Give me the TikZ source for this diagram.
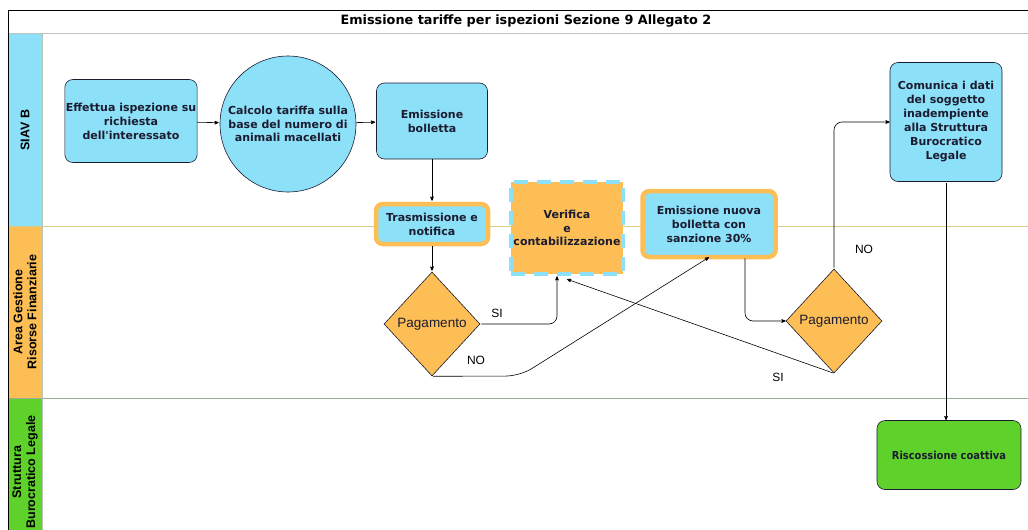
\documentclass[tikz,border=0pt]{standalone}
\usepackage{fontspec}
\setmainfont{DejaVu Sans}[Ligatures=TeXOff]
\newfontfamily\arialfont{Liberation Sans}
\newfontfamily\condfont{DejaVu Sans Condensed}
\usepackage{tikz}
\usetikzlibrary{arrows,shapes.geometric,positioning}
\definecolor{boxblue}{HTML}{8CE0F8}
\definecolor{boxorange}{HTML}{FCBE55}
\definecolor{boxgreen}{HTML}{5ED22B}
\definecolor{txtdark}{HTML}{1C1C30}
\definecolor{laneline}{HTML}{D6CF8C}
\definecolor{lanegray}{HTML}{9AAC9A}
\tikzset{module/.style={rectangle,rounded corners=8pt,draw=txtdark,semithick,fill=boxblue,align=center,text=txtdark,font=\bfseries\fontsize{11}{14}\selectfont},
		pre/.style={<-,shorten <=1pt,>=stealth',semithick},
		post/.style={->,shorten <=1pt,>=stealth',semithick}}

\begin{document}
\begin{tikzpicture}[x=1pt,y=-1pt,
		task/.style={module,minimum width=132pt,minimum height=83pt,inner sep=1pt},
		calc/.style={circle,draw=txtdark,semithick,fill=boxblue,minimum size=136pt,inner sep=0pt,align=center,text=txtdark,font=\bfseries\fontsize{11}{13.5}\selectfont},
		framed/.style={module,draw=boxorange,line width=4.5pt,rounded corners=7pt,inner sep=1pt},
		check/.style={rectangle,fill=boxorange,draw=boxblue,line width=4.5pt,dash pattern=on 14pt off 9pt,align=center,text=txtdark,inner sep=1pt,font=\bfseries\fontsize{11}{13.5}\selectfont},
		cond/.style={diamond,aspect=0.92,draw=txtdark,semithick,fill=boxorange,inner sep=1pt,minimum width=96pt,minimum height=104pt,text=txtdark,font=\arialfont\fontsize{13.5}{15}\selectfont},
		final/.style={rectangle,rounded corners=8pt,draw=txtdark,semithick,fill=boxgreen,minimum width=144pt,minimum height=69pt,text=txtdark,font=\condfont\bfseries\fontsize{11}{13}\selectfont},
		lane/.style={rotate=90,align=center,font=\arialfont\bfseries\fontsize{12.5}{14}\selectfont},
		lbl/.style={font=\arialfont\fontsize{12}{13}\selectfont}]
		\useasboundingbox (0,0) rectangle (1028,530);
		% swimlanes
		\fill[white] (8,10) rectangle (1028,530);
		\fill[boxblue] (8,33) rectangle (42,226);
		\fill[boxorange] (8,226) rectangle (42,398);
		\fill[boxgreen] (8,398) rectangle (42,530);
		\draw[laneline] (8,226) -- (1028,226);
		\draw[lanegray] (8,398) -- (1028,398);
		\draw[lanegray!70] (8,33) -- (1028,33);
		\draw[lanegray!70] (42,33) -- (42,530);
		\draw[black] (8,530) -- (8,10) -- (1028,10);
		\node[font=\bfseries\fontsize{12.8}{15}\selectfont] (title) at (526,21) {Emissione tariffe per ispezioni Sezione 9 Allegato 2};
		\node[lane] (lane-siav) at (25,130) {SIAV B};
		\node[lane] (lane-agrf) at (25,312) {Area Gestione\\Risorse Finanziarie};
		\node[lane] (lane-sbl) at (25,472) {Struttura\\Burocratico Legale};
		% flow
		\node[task] (ispezione) at (131,121) {Effettua ispezione su\\richiesta\\dell'interessato};
		\node[calc] (calcolo) at (288,124) {Calcolo tariffa sulla\\base del numero di\\animali macellati} edge[pre] (ispezione);
		\node[task,minimum width=111pt,minimum height=76pt] (bolletta) at (432,121) {Emissione\\bolletta} edge[pre] (calcolo);
		\node[framed,minimum width=112pt,minimum height=40pt] (trasmissione) at (432,224) {Trasmissione e\\notifica} edge[pre] (bolletta);
		\node[cond] (pagamento-1) at (432,324) {Pagamento} edge[pre] (trasmissione);
		\node[check,minimum width=112pt,minimum height=92pt] (verifica) at (567,228) {Verifica\\e\\contabilizzazione};
		\node[framed,minimum width=133pt,minimum height=66pt] (nuova) at (709,224) {Emissione nuova\\bolletta con\\sanzione 30\%};
		\node[cond] (pagamento-2) at (834,321) {Pagamento};
		\node[task,minimum width=112pt,minimum height=119pt] (comunica) at (946,122) {Comunica i dati\\del soggetto\\inadempiente\\alla Struttura\\Burocratico\\Legale};
		\node[final] (riscossione) at (949,455) {Riscossione coattiva};
		\draw[post] (comunica) -- (comunica |- riscossione.north);
		\draw[post,rounded corners=8pt] (pagamento-1.east) -- (557,324) -- ([xshift=-10pt]verifica.south);
		\node[lbl] (si-1) at (497,313) {SI};
		\draw[post,rounded corners=14pt] (pagamento-1.south) -- (520,376) -- ([yshift=2pt]nuova.south);
		\node[lbl] (no-1) at (476,360) {NO};
		\draw[post,rounded corners=8pt] ([xshift=36pt,yshift=2pt]nuova.south) -- (745,321) -- (pagamento-2.west);
		\draw[post] (pagamento-2.south) -- ([yshift=-3pt]verifica.south);
		\node[lbl] (si-2) at (778,377) {SI};
		\draw[post,rounded corners=8pt] (pagamento-2.north) -- (834,122) -- (comunica.west);
		\node[lbl] (no-2) at (864,249) {NO};
	\end{tikzpicture}
\end{document}
